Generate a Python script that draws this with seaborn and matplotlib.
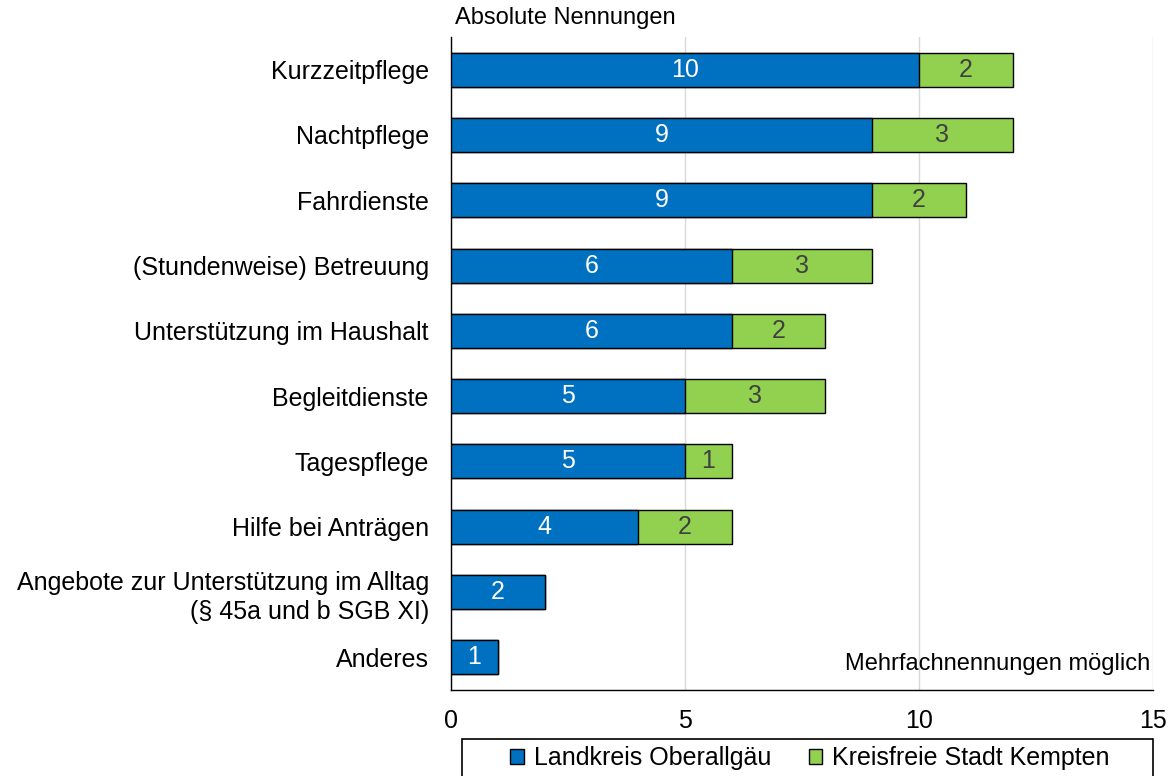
import matplotlib
matplotlib.use("Agg")
import matplotlib.pyplot as plt
import seaborn as sns
import pandas as pd
from matplotlib.patches import Patch, Rectangle

categories = [
    "Kurzzeitpflege",
    "Nachtpflege",
    "Fahrdienste",
    "(Stundenweise) Betreuung",
    "Unterstützung im Haushalt",
    "Begleitdienste",
    "Tagespflege",
    "Hilfe bei Anträgen",
    "Angebote zur Unterstützung im Alltag\n(§ 45a und b SGB XI)",
    "Anderes",
]
oberallgaeu = [10, 9, 9, 6, 6, 5, 5, 4, 2, 1]
kempten = [2, 3, 2, 3, 2, 3, 1, 2, 0, 0]
series_names = ["Landkreis Oberallgäu", "Kreisfreie Stadt Kempten"]
x_ticks = [0, 5, 10, 15]

BLUE = "#0070C0"
GREEN = "#92D050"

sns.set_theme(style="white")
plt.rcParams["font.family"] = ["Liberation Sans", "DejaVu Sans"]
plt.rcParams["text.color"] = "black"

df = pd.DataFrame({"cat": categories, "o": oberallgaeu, "k": kempten})
df["total"] = df["o"] + df["k"]

W, H = 1176, 776
fig = plt.figure(figsize=(W / 100, H / 100), dpi=100)
ax = fig.add_axes([451 / W, 1 - 690 / H, (1153 - 451) / W, (690 - 37) / H])

fs = 18
sns.barplot(data=df, x="total", y="cat", orient="h", color=GREEN, width=0.52,
            saturation=1, edgecolor="black", linewidth=1.0, ax=ax, zorder=2)
sns.barplot(data=df, x="o", y="cat", orient="h", color=BLUE, width=0.52,
            saturation=1, edgecolor="black", linewidth=1.0, ax=ax, zorder=3)

for i, (o, k) in enumerate(zip(oberallgaeu, kempten)):
    ax.text(o / 2, i, str(o), ha="center", va="center", color="white",
            fontsize=fs, zorder=5)
    if k > 0:
        ax.text(o + k / 2, i, str(k), ha="center", va="center", color="#404040",
                fontsize=fs, zorder=5)

ax.set_xlim(0, 15)
ax.set_ylim(9.5, -0.5)
ax.set_xticks(x_ticks)
ax.set_xticklabels([str(t) for t in x_ticks])
ax.xaxis.grid(True, color="#d9d9d9", linewidth=1.0, zorder=0)
ax.set_axisbelow(True)
ax.set_xlabel("")
ax.set_ylabel("")
ax.tick_params(axis="both", length=0, labelsize=fs, colors="black")
ax.tick_params(axis="x", pad=14)
ax.tick_params(axis="y", pad=16)
for lab in ax.get_yticklabels():
    lab.set_horizontalalignment("right")
    lab.set_multialignment("right")
    lab.set_linespacing(1.3)
for s in ["top", "right"]:
    ax.spines[s].set_visible(False)
for s in ["left", "bottom"]:
    ax.spines[s].set_visible(True)
    ax.spines[s].set_color("black")
    ax.spines[s].set_linewidth(1.0)

fig.text(455 / W, 1 - 18 / H, "Absolute Nennungen", ha="left", va="center",
         fontsize=17, color="black")
fig.text(1150 / W, 1 - 664 / H, "Mehrfachnennungen möglich", ha="right",
         va="center", fontsize=17, color="black")

# legend frame
fig.patches.append(Rectangle((462 / W, -0.01), (1153 - 462) / W,
                             1 - 739 / H + 0.01, transform=fig.transFigure,
                             facecolor="white", edgecolor="black",
                             linewidth=1.2, zorder=1))

handles = [Patch(facecolor=BLUE, edgecolor="black", linewidth=1.0),
           Patch(facecolor=GREEN, edgecolor="black", linewidth=1.0)]
leg = fig.legend(handles, series_names, ncol=2, loc="center",
                 bbox_to_anchor=(810 / W, 1 - 758 / H), frameon=False,
                 fontsize=fs, handlelength=0.55, handleheight=0.55,
                 handletextpad=0.4, columnspacing=1.5, borderpad=0.2,
                 labelcolor="black")
leg.set_zorder(2)

fig.savefig("out.png", dpi=100)
